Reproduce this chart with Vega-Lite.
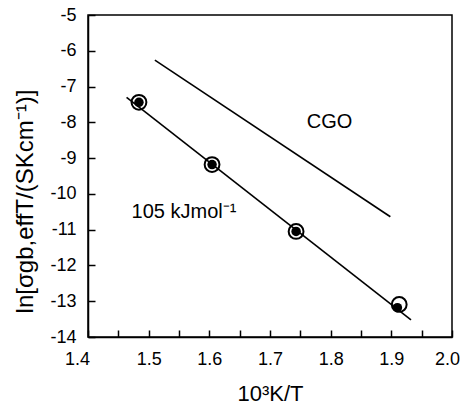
{
  "$schema": "https://vega.github.io/schema/vega-lite/v6.json",
  "width": 364,
  "height": 322,
  "autosize": "none",
  "padding": {"left": 88, "top": 15, "right": 10, "bottom": 71},
  "background": "white",
  "config": {
    "font": "Liberation Sans",
    "view": {"stroke": "black", "strokeWidth": 1.5}
  },
  "datasets": {
    "cgo": [{"x": 1.5102, "y": -6.26}, {"x": 1.8984, "y": -10.64}],
    "fit": [{"x": 1.4636, "y": -7.30}, {"x": 1.9324, "y": -13.52}],
    "open": [
      {"x": 1.484, "y": -7.44},
      {"x": 1.6045, "y": -9.18},
      {"x": 1.743, "y": -11.05},
      {"x": 1.913, "y": -13.09}
    ],
    "filled": [
      {"x": 1.484, "y": -7.44},
      {"x": 1.6045, "y": -9.18},
      {"x": 1.743, "y": -11.05},
      {"x": 1.910, "y": -13.18}
    ],
    "labels": [
      {"x": 1.7607, "y": -8.17, "label": "CGO"},
      {"x": 1.4719, "y": -10.67, "label": "105 kJmol⁻¹"}
    ]
  },
  "encoding": {
    "x": {
      "field": "x", "type": "quantitative",
      "scale": {"domain": [1.4, 2.0], "nice": false, "zero": false},
      "axis": {
        "grid": false,
        "domainColor": "black",
        "domainWidth": 1.5,
        "tickColor": "black",
        "tickWidth": 1.5,
        "tickSize": -7,
        "labelColor": "black",
        "labelFont": "Liberation Sans",
        "labelFontSize": 18,
        "labelOverlap": false,
        "labelBound": false,
        "values": [1.4, 1.45, 1.5, 1.55, 1.6, 1.65, 1.7, 1.75, 1.8, 1.85, 1.9, 1.95, 2.0],
        "labelExpr": "round(datum.value*100) % 10 === 0 ? format(datum.value, '.1f') : ''",
        "labelFlush": false,
        "labelPadding": 20,
        "labelOffset": {
          "condition": [
            {"test": "datum.value < 1.41", "value": -11},
            {"test": "datum.value > 1.99", "value": -5}
          ],
          "value": 0
        },
        "title": "10³K/T",
        "titleFont": "Liberation Sans",
        "titleColor": "black",
        "titleFontWeight": "normal",
        "titleFontSize": 22,
        "titleBaseline": "middle",
        "titleY": 56
      }
    },
    "y": {
      "field": "y", "type": "quantitative",
      "scale": {"domain": [-14, -5], "nice": false, "zero": false},
      "axis": {
        "grid": false,
        "domainColor": "black",
        "domainWidth": 1.5,
        "tickColor": "black",
        "tickWidth": 1.5,
        "tickSize": -7,
        "tickCount": 9,
        "labelColor": "black",
        "labelFont": "Liberation Sans",
        "labelFontSize": 18,
        "labelOverlap": false,
        "labelBound": false,
        "labelExpr": "'' + datum.value",
        "labelPadding": 19,
        "title": "ln[σgb,effT/(SKcm⁻¹)]",
        "titleFont": "Liberation Sans",
        "titleColor": "black",
        "titleFontWeight": "normal",
        "titleFontSize": 24,
        "titleAngle": -90,
        "titleAlign": "center",
        "titleBaseline": "middle",
        "titleX": -63,
        "titleY": 186
      }
    }
  },
  "layer": [
    {
      "data": {"name": "cgo"},
      "mark": {"type": "line", "color": "black", "strokeWidth": 1.6}
    },
    {
      "data": {"name": "fit"},
      "mark": {"type": "line", "color": "black", "strokeWidth": 1.6}
    },
    {
      "data": {"name": "open"},
      "mark": {"type": "point", "shape": "circle", "filled": false, "color": "black", "strokeWidth": 2, "size": 220, "opacity": 1}
    },
    {
      "data": {"name": "filled"},
      "mark": {"type": "point", "shape": "circle", "filled": true, "color": "black", "size": 90, "opacity": 1}
    },
    {
      "data": {"name": "labels"},
      "mark": {"type": "text", "align": "left", "baseline": "alphabetic", "fontSize": 20, "color": "black", "font": "Liberation Sans"},
      "encoding": {
        "text": {"field": "label"}
      }
    }
  ]
}
